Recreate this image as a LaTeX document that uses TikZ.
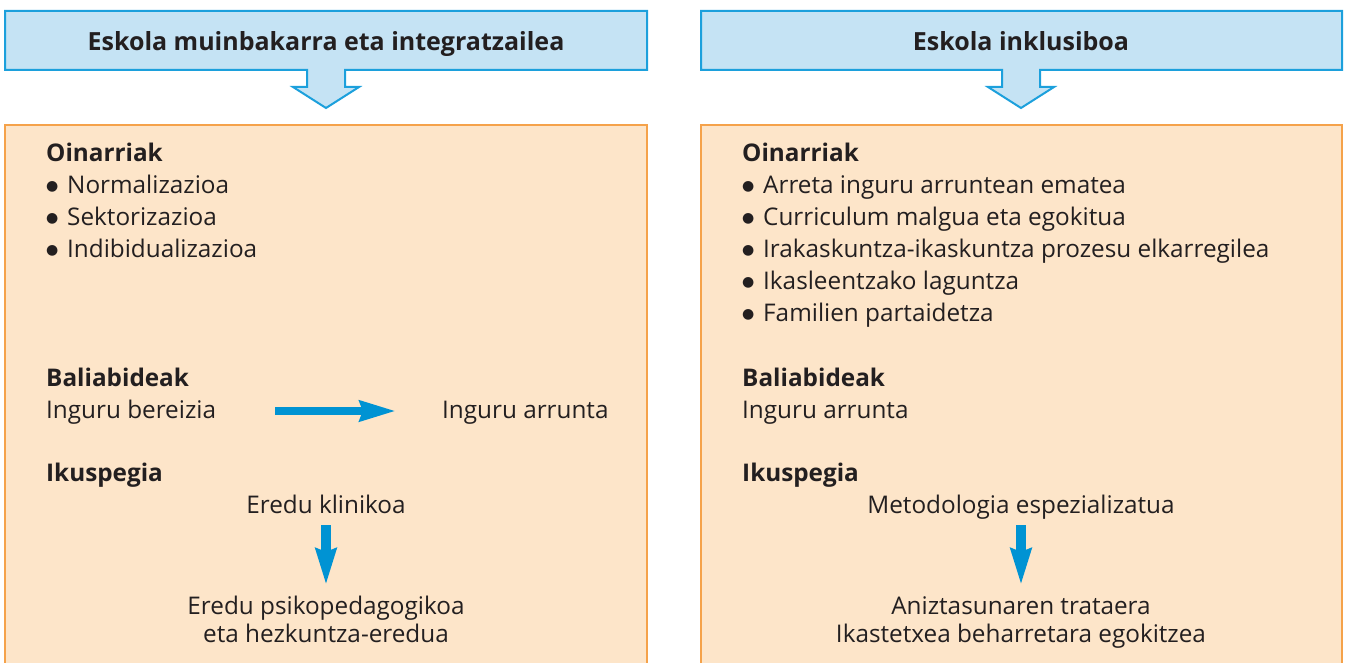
\documentclass[tikz,border=0pt]{standalone}
\usepackage{fontspec}
\setmainfont{Open Sans}
\newfontfamily\bulfont{DejaVu Sans}
\usetikzlibrary{arrows.meta}
\definecolor{hdrfill}{HTML}{C5E3F4}
\definecolor{hdrline}{HTML}{1CA0DC}
\definecolor{boxfill}{HTML}{FDE5C9}
\definecolor{boxline}{HTML}{F5A24A}
\definecolor{arrowblue}{HTML}{0093D3}
\definecolor{txt}{HTML}{231F20}
\newcommand{\bul}{\makebox[21pt][l]{\bulfont\fontsize{14}{14}\selectfont\raisebox{3.4pt}{●}}}
\tikzset{
  hdr/.style={draw=hdrline, fill=hdrfill, line width=2pt, line join=miter},
  panel/.style={fill=boxfill},
  panelline/.style={draw=boxline, line width=2pt},
  hdrtext/.style={inner sep=0pt, anchor=base, font=\fontsize{25}{28}\selectfont\bfseries, text=txt},
  head/.style={inner sep=0pt, anchor=base west, font=\fontsize{24.3}{28}\selectfont\bfseries, text=txt},
  body/.style={inner sep=0pt, anchor=base west, font=\fontsize{24.3}{28}\selectfont, text=txt},
  cbody/.style={inner sep=0pt, anchor=base, font=\fontsize{24.3}{28}\selectfont, text=txt, align=center},
  harrow/.style={draw=arrowblue, line width=8pt, -{Stealth[length=36pt, width=20pt, inset=3pt]}},
  varrow/.style={draw=arrowblue, line width=10pt, -{Stealth[length=36pt, width=20pt, inset=3pt]}}
}
\begin{document}
\begin{tikzpicture}[x=1pt,y=-1pt]
\useasboundingbox (0,0) rectangle (1345,663);
% panels
\fill[panel] (5,125) rectangle (647,670);
\draw[panelline] (5,670) -- (5,125) -- (647,125) -- (647,670);
\fill[panel] (701,125) rectangle (1342,670);
\draw[panelline] (701,670) -- (701,125) -- (1342,125) -- (1342,670);
% headers with arrow
\draw[hdr] (5,11) -- (647,11) -- (647,70) -- (345,70) -- (345,87) -- (359,87) -- (326,108) -- (293,87) -- (307,87) -- (307,70) -- (5,70) -- cycle;
\draw[hdr] (701,11) -- (1342,11) -- (1342,70) -- (1040,70) -- (1040,87) -- (1054,87) -- (1021,108) -- (988,87) -- (1002,87) -- (1002,70) -- (701,70) -- cycle;
\node[hdrtext] (h1) at (326,51) {Eskola muinbakarra eta integratzailea};
\node[hdrtext] (h2) at (1021,51) {Eskola inklusiboa};
% left panel
\node[head] (lo) at (46,162) {Oinarriak};
\node[body] (lo1) at (46,194) {\bul Normalizazioa};
\node[body] (lo2) at (46,226) {\bul Sektorizazioa};
\node[body] (lo3) at (46,258) {\bul Indibidualizazioa};
\node[head] (lb) at (46,386) {Baliabideak};
\node[body] (lb1) at (46,418) {Inguru bereizia};
\node[body] (lb2) at (442,418) {Inguru arrunta};
\coordinate (la1) at (275,411);
\coordinate (la2) at (396,411);
\draw[harrow] (la1) -- (la2);
\node[head] (li) at (46,481) {Ikuspegia};
\node[cbody] (li1) at (326,513) {Eredu klinikoa};
\node[cbody] (li2) at (326,614) {Eredu psikopedagogikoa};
\node[cbody] (li3) at (326,642) {eta hezkuntza-eredua};
\coordinate (lv1) at (326,525);
\coordinate (lv2) at (326,585);
\draw[varrow] (lv1) -- (lv2);
% right panel
\node[head] (ro) at (742,162) {Oinarriak};
\node[body] (ro1) at (742,194) {\bul Arreta inguru arruntean ematea};
\node[body] (ro2) at (742,226) {\bul Curriculum malgua eta egokitua};
\node[body] (ro3) at (742,258) {\bul Irakaskuntza-ikaskuntza prozesu elkarregilea};
\node[body] (ro4) at (742,290) {\bul Ikasleentzako laguntza};
\node[body] (ro5) at (742,322) {\bul Familien partaidetza};
\node[head] (rb) at (742,386) {Baliabideak};
\node[body] (rb1) at (742,418) {Inguru arrunta};
\node[head] (ri) at (742,481) {Ikuspegia};
\node[cbody] (ri1) at (1021,513) {Metodologia espezializatua};
\node[cbody] (ri2) at (1021,614) {Aniztasunaren trataera};
\node[cbody] (ri3) at (1021,642) {Ikastetxea beharretara egokitzea};
\coordinate (rv1) at (1021,525);
\coordinate (rv2) at (1021,585);
\draw[varrow] (rv1) -- (rv2);
\end{tikzpicture}
\end{document}
